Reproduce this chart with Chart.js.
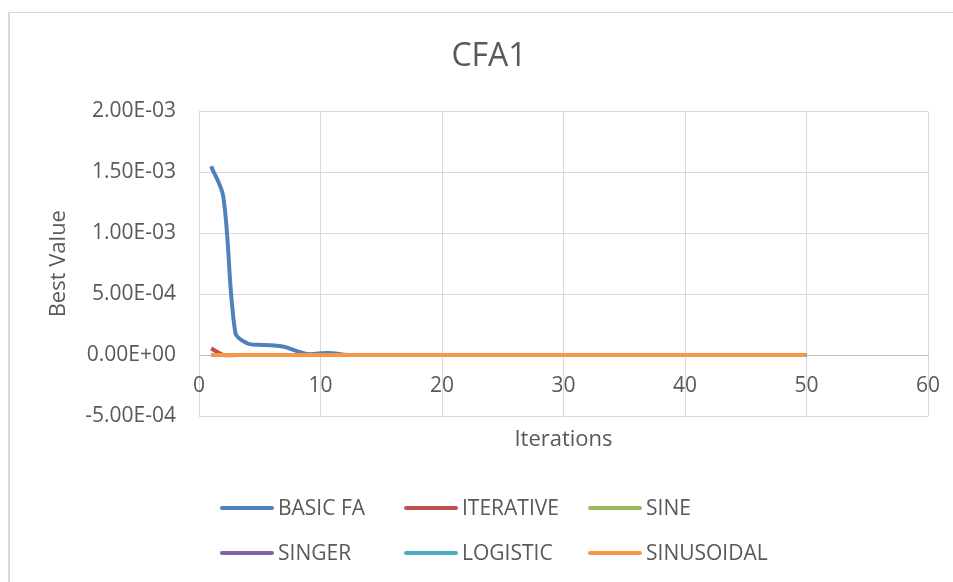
<!DOCTYPE html>
<html>
<head>
<meta charset="utf-8">
<title>CFA1</title>
<script src="https://cdn.jsdelivr.net/npm/chart.js@4.4.1/dist/chart.umd.min.js"></script>
<style>
  html, body { margin: 0; padding: 0; background: #fff; }
  #wrap { position: relative; width: 953px; height: 582px; }
</style>
</head>
<body>
<div id="wrap"><canvas id="chartCFA1"></canvas></div>
<script>
// --- DADOS ---
const iteracoes = [1, 2, 3, 4, 5, 6, 7, 8, 9, 10,
    11, 12, 13, 14, 15, 16, 17, 18, 19, 20,
    21, 22, 23, 24, 25, 26, 27, 28, 29, 30,
    31, 32, 33, 34, 35, 36, 37, 38, 39, 40,
    41, 42, 43, 44, 45, 46, 47, 48, 49, 50];

const basicFA = [1.55e-3, 1.30e-3, 1.8e-4, 9.5e-5, 8.5e-5, 8.0e-5, 6.8e-5, 3.5e-5, 8e-6, 1.5e-5,
    1.5e-5, 2e-6, 0, 0, 0, 0, 0, 0, 0, 0,
    0, 0, 0, 0, 0, 0, 0, 0, 0, 0,
    0, 0, 0, 0, 0, 0, 0, 0, 0, 0,
    0, 0, 0, 0, 0, 0, 0, 0, 0, 0];
const iterative = [5.5e-5, 2e-6, 0, 0, 0, 0, 0, 0, 0, 0,
    0, 0, 0, 0, 0, 0, 0, 0, 0, 0,
    0, 0, 0, 0, 0, 0, 0, 0, 0, 0,
    0, 0, 0, 0, 0, 0, 0, 0, 0, 0,
    0, 0, 0, 0, 0, 0, 0, 0, 0, 0];
const sine = [0, 0, 0, 0, 0, 0, 0, 0, 0, 0,
    0, 0, 0, 0, 0, 0, 0, 0, 0, 0,
    0, 0, 0, 0, 0, 0, 0, 0, 0, 0,
    0, 0, 0, 0, 0, 0, 0, 0, 0, 0,
    0, 0, 0, 0, 0, 0, 0, 0, 0, 0];
const singer = [0, 0, 0, 0, 0, 0, 0, 0, 0, 0,
    0, 0, 0, 0, 0, 0, 0, 0, 0, 0,
    0, 0, 0, 0, 0, 0, 0, 0, 0, 0,
    0, 0, 0, 0, 0, 0, 0, 0, 0, 0,
    0, 0, 0, 0, 0, 0, 0, 0, 0, 0];
const logistic = [0, 0, 0, 0, 0, 0, 0, 0, 0, 0,
    0, 0, 0, 0, 0, 0, 0, 0, 0, 0,
    0, 0, 0, 0, 0, 0, 0, 0, 0, 0,
    0, 0, 0, 0, 0, 0, 0, 0, 0, 0,
    0, 0, 0, 0, 0, 0, 0, 0, 0, 0];
const sinusoidal = [0, 0, 0, 0, 0, 0, 0, 0, 0, 0,
    0, 0, 0, 0, 0, 0, 0, 0, 0, 0,
    0, 0, 0, 0, 0, 0, 0, 0, 0, 0,
    0, 0, 0, 0, 0, 0, 0, 0, 0, 0,
    0, 0, 0, 0, 0, 0, 0, 0, 0, 0];

const nomesSeries = ['BASIC FA', 'ITERATIVE', 'SINE', 'SINGER', 'LOGISTIC', 'SINUSOIDAL'];
const valoresSeries = [basicFA, iterative, sine, singer, logistic, sinusoidal];
const coresSeries = ['#4F81BD', '#C0504D', '#9BBB59', '#8064A2', '#4BACC6', '#F79646'];

// eixos
const xMin = 0, xMax = 60, xPasso = 10;
const yMin = -5e-4, yMax = 2e-3, yPasso = 5e-4;

const COR_TEXTO = '#595959';
const COR_GRADE = '#d9d9d9';

Chart.defaults.font.family = '"Open Sans", sans-serif';
Chart.defaults.color = COR_TEXTO;

// 2.00E-03 no estilo do Excel
function formatoCientifico(v) {
    const [mant, e] = Number(v).toExponential(2).split('e');
    const exp = parseInt(e, 10);
    return mant + 'E' + (exp < 0 ? '-' : '+') + String(Math.abs(exp)).padStart(2, '0');
}

// moldura da área do gráfico (borda cinza do Excel)
const molduraExcel = {
    id: 'molduraExcel',
    beforeDraw(chart) {
        const ctx = chart.ctx;
        ctx.save();
        ctx.fillStyle = COR_GRADE;
        ctx.fillRect(8, 12, 2, chart.height);
        ctx.fillRect(8, 12, chart.width, 1);
        ctx.restore();
    }
};

// legenda em grade 3 x 2, colunas iguais como no Excel
const legendaExcel = {
    id: 'legendaExcel',
    afterDraw(chart) {
        const ctx = chart.ctx;
        ctx.save();
        ctx.font = '21px "Open Sans"';
        ctx.fillStyle = COR_TEXTO;
        ctx.textBaseline = 'middle';
        ctx.textAlign = 'left';
        chart.data.datasets.forEach((ds, i) => {
            const x0 = 220 + (i % 3) * 184;
            const y0 = 508 + Math.floor(i / 3) * 45;
            ctx.strokeStyle = ds.borderColor;
            ctx.lineWidth = 4;
            ctx.lineCap = 'round';
            ctx.beginPath();
            ctx.moveTo(x0 + 2, y0);
            ctx.lineTo(x0 + 52, y0);
            ctx.stroke();
            ctx.fillText(ds.label, x0 + 58, y0 + 1);
        });
        ctx.restore();
    }
};

const datasets = nomesSeries.map((nome, i) => ({
    label: nome,
    data: iteracoes.map((x, k) => ({ x: x, y: valoresSeries[i][k] })),
    borderColor: coresSeries[i],
    backgroundColor: coresSeries[i],
    borderWidth: 4,
    pointRadius: 0,
    tension: 0.33,
    fill: false,
    order: nomesSeries.length - 1 - i   // SINUSOIDAL fica por cima, como no original
}));

new Chart(document.getElementById('chartCFA1').getContext('2d'), {
    type: 'line',
    data: { datasets },
    options: {
        responsive: true,
        maintainAspectRatio: false,
        animation: false,
        // padding esquerdo maior só pra centralizar o título como no Excel
        layout: { padding: { left: 50, right: 25, top: 0, bottom: 166 } },
        plugins: {
            legend: { display: false },
            tooltip: { enabled: false },
            title: {
                display: true,
                text: 'CFA1',
                color: COR_TEXTO,
                font: { size: 32, weight: 'normal' },
                padding: { top: 38, bottom: 35 }
            }
        },
        scales: {
            x: {
                type: 'linear',
                position: { y: 0 },
                min: xMin, max: xMax,
                ticks: { stepSize: xPasso, color: COR_TEXTO, font: { size: 21 }, padding: 18, maxRotation: 0 },
                grid: { color: COR_GRADE, lineWidth: 1, drawTicks: false },
                border: { display: true, color: '#bfbfbf', width: 1 },
                title: { display: true, text: 'Iterations', color: COR_TEXTO, font: { size: 22 }, padding: { top: 10, bottom: 0 } },
                // o padding dos ticks entra na sobra lateral; zera pra área ir até x=928
                afterFit: scale => { scale.paddingLeft = 0; scale.paddingRight = 0; }
            },
            y: {
                type: 'linear',
                position: 'left',
                min: yMin, max: yMax,
                ticks: { stepSize: yPasso, color: COR_TEXTO, font: { size: 21 }, padding: 23, callback: v => formatoCientifico(v) },
                grid: { color: COR_GRADE, lineWidth: 1, drawTicks: false },
                border: { display: false },
                title: { display: true, text: 'Best Value', color: COR_TEXTO, font: { size: 22 }, padding: { top: -4, bottom: 0 } },
                afterFit: scale => { scale.width = 149; }
            }
        }
    },
    plugins: [molduraExcel, legendaExcel]
});
</script>
</body>
</html>
